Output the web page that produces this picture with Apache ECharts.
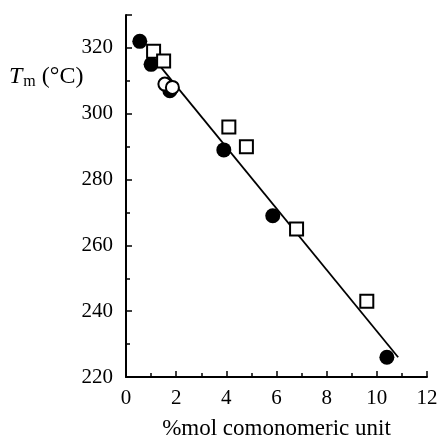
<!DOCTYPE html>
<html>
<head>
<meta charset="utf-8">
<script src="https://cdn.jsdelivr.net/npm/echarts@6/dist/echarts.min.js"></script>
<style>
html,body{margin:0;padding:0;background:#fff;}
#main{width:441px;height:445px;}
</style>
</head>
<body>
<div id="main"></div>
<script>
// comonomer content (%mol) vs melting temperature (°C)
var filledCircles = [[0.55, 322], [1.0, 315], [1.75, 307], [3.9, 289], [5.85, 269], [10.4, 226]];
var openSquares = [[1.1, 319], [1.5, 316], [4.1, 296], [4.8, 290], [6.8, 265], [9.6, 243]];
var openCircles = [[1.55, 309], [1.85, 308]];
var fitLine = [[1.3, 315], [10.85, 226]];

window.onload = function () {
	var myChart = echarts.init(document.getElementById('main'));
	var font = 'Liberation Serif';
	myChart.setOption({
		animation: false,
		grid: {
			left: 126,
			right: 14,
			top: 15,
			bottom: 66
		},
		xAxis: {
			type: 'value',
			min: 0,
			max: 12,
			interval: 2,
			name: '%mol comonomeric unit',
			nameLocation: 'middle',
			nameGap: 40,
			nameTextStyle: { fontFamily: font, fontSize: 23, color: '#000' },
			axisLine: { lineStyle: { color: '#000', width: 2 } },
			axisTick: { inside: true, length: 6, lineStyle: { color: '#000', width: 1.5 } },
			minorTick: { show: true, splitNumber: 2, length: 4, lineStyle: { color: '#000', width: 1.5 } },
			axisLabel: { fontFamily: font, fontSize: 21, color: '#000', margin: 11 },
			splitLine: { show: false }
		},
		yAxis: {
			type: 'value',
			min: 220,
			max: 330,
			interval: 20,
			axisLine: { show: true, lineStyle: { color: '#000', width: 2 } },
			axisTick: { show: true, inside: true, length: 6, lineStyle: { color: '#000', width: 1.5 } },
			minorTick: { show: true, splitNumber: 2, length: 4, lineStyle: { color: '#000', width: 1.5 } },
			axisLabel: {
				fontFamily: font, fontSize: 21, color: '#000', margin: 13,
				formatter: function (v) { return v > 320 ? '' : v; }
			},
			splitLine: { show: false }
		},
		graphic: [{
			type: 'text',
			left: 9,
			top: 65,
			style: {
				text: '{t|T}{m|m}{u| (°C)}',
				rich: {
					t: { fontFamily: font, fontSize: 24, fontStyle: 'italic', fill: '#000' },
					m: { fontFamily: font, fontSize: 16, fill: '#000', verticalAlign: 'bottom', padding: [10, 0, 0, 1] },
					u: { fontFamily: font, fontSize: 24, fill: '#000' }
				}
			}
		}],
		series: [{
			name: 'fit',
			type: 'line',
			data: fitLine,
			showSymbol: false,
			lineStyle: { color: '#000', width: 1.8 },
			z: 1
		}, {
			name: 'filled',
			type: 'scatter',
			data: filledCircles,
			symbol: 'circle',
			symbolSize: 15,
			itemStyle: { color: '#000', opacity: 1 },
			z: 2
		}, {
			name: 'squares',
			type: 'scatter',
			data: openSquares,
			symbol: 'rect',
			symbolSize: 13,
			itemStyle: { color: '#fff', borderColor: '#000', borderWidth: 2, opacity: 1 },
			z: 3
		}, {
			name: 'open',
			type: 'scatter',
			data: openCircles,
			symbol: 'circle',
			symbolSize: 13,
			itemStyle: { color: '#fff', borderColor: '#000', borderWidth: 2, opacity: 1 },
			z: 4
		}]
	});
};
</script>
</body>
</html>
